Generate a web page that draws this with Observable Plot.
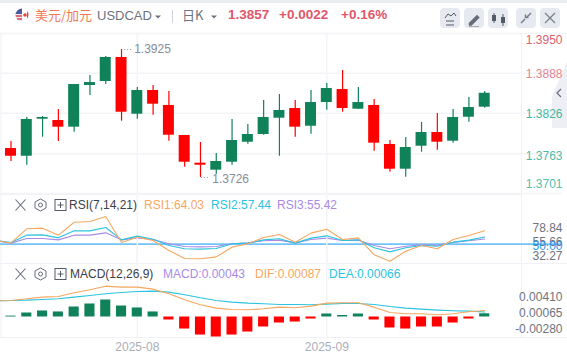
<!DOCTYPE html>
<html><head><meta charset="utf-8">
<script src="https://cdn.jsdelivr.net/npm/d3@7"></script>
<script src="https://cdn.jsdelivr.net/npm/@observablehq/plot@0.6"></script>
<style>
html,body{margin:0;padding:0;background:#fff;overflow:hidden}
#root{position:relative;width:567px;height:358px;overflow:hidden;font-family:"Liberation Sans",Arial,sans-serif}
#root svg{position:absolute;left:0;overflow:visible}
.t{position:absolute;white-space:nowrap;line-height:16px;font-size:12px}
.h{position:absolute;left:0;top:0;width:567px;height:3px;background:#e8ebf0}
</style></head><body><div id="root"></div>
<script>
const open  = [1.37710,1.37590,1.38166,1.38146,1.38042,1.38691,1.38753,1.39127,1.38244,1.38613,1.38380,1.37913,1.37482,1.37373,1.37497,1.37808,1.37928,1.38182,1.38333,1.38057,1.38426,1.38628,1.38322,1.38380,1.37773,1.37388,1.37746,1.37959,1.37824,1.38197,1.38353];
const close = [1.37590,1.38162,1.38193,1.38042,1.38706,1.38737,1.39127,1.38275,1.38613,1.38400,1.37917,1.37497,1.37450,1.37508,1.37835,1.37928,1.38193,1.38302,1.38042,1.38426,1.38644,1.38333,1.38426,1.37793,1.37388,1.37726,1.37959,1.37808,1.38193,1.38348,1.38570];
const high  = [1.37819,1.38193,1.38208,1.38317,1.38706,1.38846,1.39142,1.39250,1.38660,1.38691,1.38597,1.37913,1.37804,1.37632,1.38162,1.38084,1.38457,1.38551,1.38457,1.38613,1.38722,1.38924,1.38660,1.38473,1.37835,1.37881,1.38115,1.38255,1.38317,1.38504,1.38597];
const low   = [1.37508,1.37450,1.37886,1.37819,1.37964,1.38535,1.38706,1.38135,1.38166,1.38229,1.37824,1.37419,1.37260,1.37310,1.37450,1.37777,1.37917,1.37590,1.37886,1.37933,1.38306,1.38275,1.38317,1.37668,1.37341,1.37264,1.37653,1.37684,1.37793,1.38120,1.38337];
const rsi1 = [53.8,51.4,66.0,66.7,59.4,72.9,73.6,78.84,51.7,57.3,53.8,43.4,35.1,34.8,36.8,46.9,50.4,57.0,60.1,52.1,61.5,65.6,54.9,56.6,38.9,32.27,42.7,48.6,45.2,54.9,59.0,64.03];
const rsi2 = [53.8,51.7,59.4,59.7,56.6,63.9,63.9,67.4,54.5,58.4,55.2,48.6,45.2,44.8,45.5,50.4,51.1,54.5,55.6,51.1,56.3,58.7,53.8,54.5,46.2,42.0,46.2,48.6,47.9,52.1,54.2,57.44];
const rsi3 = [53.8,51.1,55.9,55.9,54.5,59.4,59.4,61.8,54.5,56.6,54.9,50.4,47.6,47.2,47.6,50.4,51.4,53.5,54.2,51.4,54.9,56.3,53.8,54.2,48.6,45.2,47.9,49.3,49.0,51.7,53.5,55.42];
const macd = [0.00012,0.00053,0.0008,0.00067,0.00133,0.00173,0.00226,0.00146,0.0012,0.00067,-0.0004,-0.0016,-0.0024,-0.00266,-0.0024,-0.002,-0.00133,-0.0008,-0.00067,-0.00027,0.0004,0.0002,0.0004,-0.0004,-0.00146,-0.0016,-0.00133,-0.00133,-0.0008,-0.00027,0.00043];
const dif = [0.00215,0.0022,0.00242,0.00264,0.00273,0.00322,0.00362,0.0041,0.00397,0.00397,0.00371,0.00309,0.00229,0.00162,0.00118,0.001,0.00096,0.00109,0.00131,0.00122,0.00145,0.00184,0.00189,0.00189,0.00131,0.0006,0.00043,0.00043,0.00029,0.00043,0.00069,0.00087];
const dea = [0.00215,0.0022,0.00224,0.00233,0.00242,0.00264,0.00286,0.00309,0.00326,0.00339,0.00344,0.00331,0.00295,0.00255,0.0022,0.00198,0.00184,0.00176,0.00167,0.00167,0.00162,0.00171,0.0018,0.0018,0.00167,0.0014,0.00118,0.00105,0.00092,0.00083,0.00078,0.00066];
const priceTicks = [1.3950,1.3888,1.3826,1.3763,1.3701];
const rsiTicks = [78.84,55.66,50.00,32.27];
const macdTicks = [0.00410,0.00065,-0.00280];
const monthIdx = [8,20];
const monthLabels = ["2025-08","2025-09"];

const GREEN="#10825a",RED="#ff0000",ORANGE="#f6a75f",CYAN="#2cc3dd",PURPLE="#a98ae6",GRID="#f3f4f8",TICK="#6d7380";
const idx = d3.range(31);
const candles = idx.map(i=>({i,o:open[i],c:close[i],h:high[i],l:low[i]}));
const xOpt = {domain:[0,30],range:[10.5,484.2]};
const font = '"Liberation Sans",Arial,sans-serif';
const base = {width:567,marginLeft:0,marginRight:5,marginBottom:0,marginTop:0,style:{background:"transparent",fontFamily:font,fontSize:"12px"},x:{...xOpt,axis:null}};
const root = document.getElementById("root");
function add(p,top){p.style.position="absolute";p.style.top=top+"px";p.style.left="0";root.appendChild(p);}

// chrome drawn first, so the charts' labels sit on top of it
const NS="http://www.w3.org/2000/svg";
const ov=document.createElementNS(NS,"svg");
ov.setAttribute("width",567);ov.setAttribute("height",358);ov.style.top="0";
const btn=[440,464,488,516,540].map(x=>`<rect x="${x}" y="8" width="20" height="20" rx="4" fill="#e6e9f0"/>`).join("");
const ic=(y)=>`<path d="M15.5 ${y-5.5}l10 11M25.5 ${y-5.5}l-10 11" stroke="#666c78" stroke-width="1.1" fill="none"/>
<path d="M40.5 ${y-6}l5.5 3v6l-5.5 3-5.5-3v-6z" stroke="#666c78" fill="none"/><circle cx="40.5" cy="${y}" r="2" stroke="#666c78" fill="none"/>
<rect x="55" y="${y-5.5}" width="11" height="11" stroke="#555b66" fill="none"/><path d="M57.5 ${y}h6M60.5 ${y-3}v6" stroke="#555b66" fill="none"/>`;
ov.innerHTML=`
<path d="M0 33.5H567M0 194.5H522M0 263.5H567M0 337.5H567" stroke="#f0f1f6" stroke-width="1.2"/>
<path d="M521.5 33V337M1 33V337" stroke="#f0f1f6"/>
<path d="M552 96L567 62V128L552 128Z" fill="#eeeff5"/><path d="M561 89l-4 4 4 4" stroke="#6d7380" stroke-width="1.3" fill="none"/>
${btn}
<path d="M446 21h8M446 25h8M445 18l3-4 3 2 3-3 2 3" stroke="#555b66" fill="none"/>
<path d="M469 23l8-8 2.5 2.5-8 8h-2.5z M469 26.5h10" fill="#666c78" stroke="#666c78" stroke-width=".5"/>
<path d="M494 13v10M503 14v12" stroke="#555b66"/><rect x="492" y="15" width="4" height="6" fill="#555b66"/><rect x="501" y="17" width="4" height="6" fill="#555b66"/>
<path d="M521 23l4-4M531 13l-4 4M525.5 14.5v3h3" stroke="#777d89" stroke-width="1.5" fill="none"/>
<path d="M545 13l10 10M555 13l-10 10" stroke="#777d89" stroke-width="1.2"/>
<clipPath id="fc"><circle cx="22" cy="15" r="6.5"/></clipPath>
<g clip-path="url(#fc)"><rect x="15" y="8" width="7" height="14" fill="#e8e8ee"/><rect x="15" y="8" width="7" height="6" fill="#4a5a9a"/>
<path d="M15 16h7M15 19h7" stroke="#d9424a" stroke-width="1.3"/><rect x="22" y="8" width="7" height="14" fill="#fff"/><rect x="27" y="8" width="3" height="14" fill="#e4473f"/><circle cx="25" cy="15" r="1.8" fill="#e4473f"/></g>
<path d="M155 15.5h6l-3 3z M211 15.5h6l-3 3z" fill="#6d7380"/><path d="M172.5 10V23" stroke="#cfd2da"/>
${ic(205)}${ic(274)}`;
root.appendChild(ov);

const vGrid = Plot.ruleX(monthIdx,{stroke:GRID,strokeWidth:1.5});
const pd=[7,1,1,2,-9], pc=["#e0606f","#e28590","#3fb8a0","#4dbba6","#55c0ac"];
add(Plot.plot({...base,height:161,y:{domain:[1.3701,1.3950],range:[160,0],axis:null},marks:[
  vGrid,
  Plot.ruleY(priceTicks,{stroke:GRID,strokeWidth:1.5}),
  Plot.ruleX(candles,{x:"i",y1:"l",y2:"h",stroke:d=>d.c>=d.o?GREEN:RED,strokeWidth:1.2}),
  Plot.rect(candles,{x1:d=>d.i-.348,x2:d=>d.i+.348,y1:"o",y2:"c",fill:d=>d.c>=d.o?GREEN:RED}),
  Plot.ruleY([1.3925],{x1:7.2,x2:7.75,stroke:"#8a8f9c",strokeDasharray:"1 2"}),
  Plot.ruleY([1.3726],{x1:12.05,x2:12.6,stroke:"#8a8f9c",strokeDasharray:"1 2"}),
  Plot.text([[7.8,1.3925,"1.3925"],[12.75,1.3724,"1.3726"]],{x:d=>d[0],y:d=>d[1],text:d=>d[2],textAnchor:"start",fill:"#878c99",fontSize:12}),
  ...priceTicks.map((t,k)=>Plot.text([t],{y:d=>d,text:d=>d.toFixed(4),frameAnchor:"right",textAnchor:"end",dy:pd[k],fill:pc[k],fontSize:12}))
]}),33);

const series=(a)=>a.map((v,k)=>({i:k-1,v}));
const rd=[12,3.5,1.5,-5.5], rc=[TICK,TICK,"#2b9bf0",TICK];
add(Plot.plot({...base,height:70,y:{domain:[32.27,78.84],range:[66.7,22],axis:null},marks:[
  vGrid,
  Plot.ruleY([50],{stroke:"#72c3fb",strokeWidth:1.8}),
  Plot.line(series(rsi3),{x:"i",y:"v",stroke:PURPLE,strokeWidth:1.1}),
  Plot.line(series(rsi2),{x:"i",y:"v",stroke:CYAN,strokeWidth:1.1}),
  Plot.line(series(rsi1),{x:"i",y:"v",stroke:ORANGE,strokeWidth:1.1}),
  ...rsiTicks.map((t,k)=>Plot.text([t],{y:d=>d,text:d=>d.toFixed(2),frameAnchor:"right",textAnchor:"end",dy:rd[k],fill:rc[k],fontSize:12}))
]}),194);

const bars=macd.map((v,i)=>({i,v}));
const md=[11,1,-9];
add(Plot.plot({...base,height:94,y:{domain:[-0.0028,0.0041],range:[73.55,21.67],axis:null},marks:[
  Plot.ruleX(monthIdx,{y1:-0.0028,y2:0.0105,stroke:GRID,strokeWidth:1.5}),
  Plot.rect(bars,{x1:d=>d.i-.32,x2:d=>d.i+.32,y1:0,y2:"v",fill:d=>d.v>=0?GREEN:RED}),
  Plot.line(series(dea),{x:"i",y:"v",stroke:CYAN,strokeWidth:1.1}),
  Plot.line(series(dif),{x:"i",y:"v",stroke:ORANGE,strokeWidth:1.1}),
  ...macdTicks.map((t,k)=>Plot.text([t],{y:d=>d,text:d=>d.toFixed(5),frameAnchor:"right",textAnchor:"end",dy:md[k],fill:TICK,fontSize:12})),
  Plot.text(monthIdx,{x:d=>d,frameAnchor:"bottom",dy:-8,text:(d,k)=>monthLabels[k],fill:"#a9aeb9",fontSize:12,lineAnchor:"bottom"})
]}),264);

const strip=document.createElement("div");strip.className="h";root.appendChild(strip);
const T=(s,x,y,c,fs,extra="")=>{const d=document.createElement("div");d.className="t";d.textContent=s;d.style.cssText=`left:${x}px;top:${y-8}px;color:${c};font-size:${fs}px;${extra}`;root.appendChild(d);};
T("美元/加元",35,15,"#f07a54",13,'font-family:"Noto Sans CJK SC";');
T("USDCAD",97,16,"#6d7380",13);
T("日K",182,15,"#6d7380",13,'font-family:"Noto Sans CJK SC";');
T("1.3857",228,15,"#e0566a",13.5,"font-weight:700;");
T("+0.0022",279,15,"#e0566a",13.5,"font-weight:700;");
T("+0.16%",341,15,"#e0566a",13.5,"font-weight:700;");
T("RSI(7,14,21)",69,205,"#3c404a",12);
T("RSI1:64.03",144,205,ORANGE,12);
T("RSI2:57.44",211,205,CYAN,12);
T("RSI3:55.42",277,205,PURPLE,12);
T("MACD(12,26,9)",70,274,"#3c404a",12);
T("MACD:0.00043",163,274,PURPLE,12);
T("DIF:0.00087",255,274,ORANGE,12);
T("DEA:0.00066",329,274,CYAN,12);
</script></body></html>
